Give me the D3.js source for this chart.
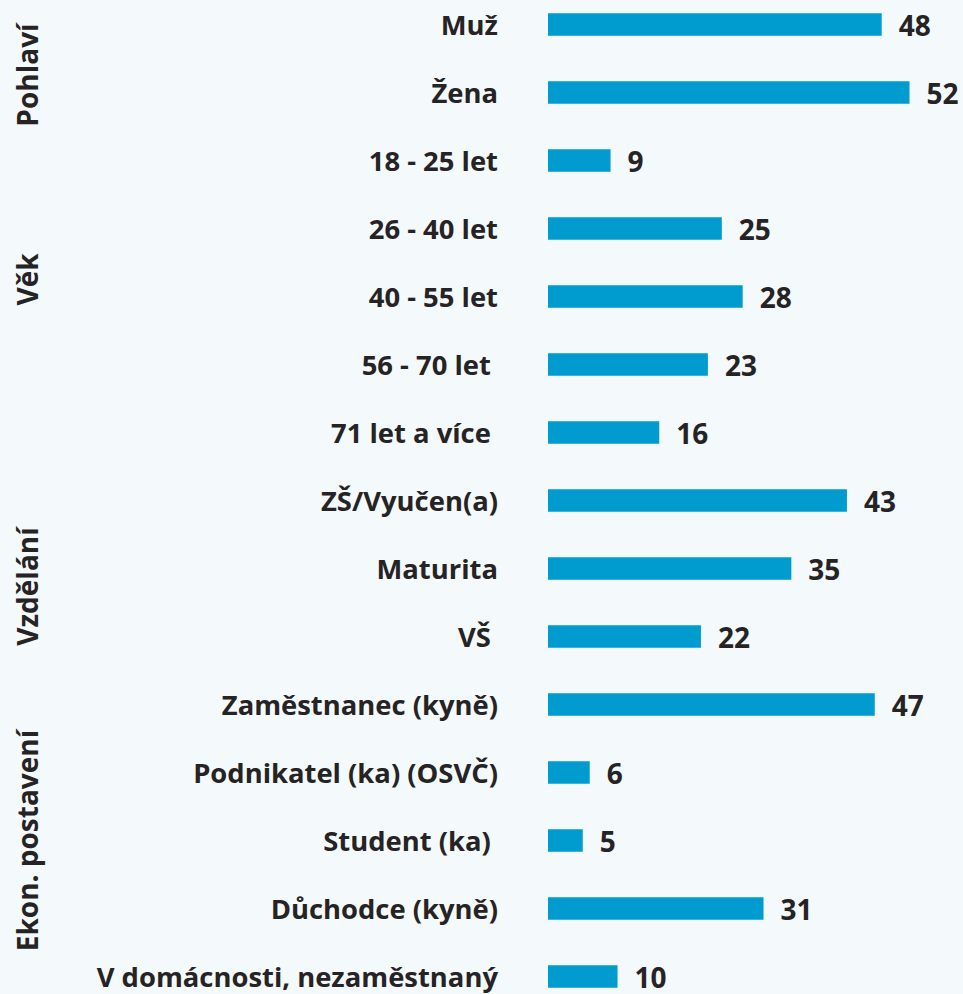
<!DOCTYPE html>
<html lang="cs">
<head>
<meta charset="utf-8">
<script src="https://cdn.jsdelivr.net/npm/d3@7"></script>
<style>
  html, body { margin: 0; padding: 0; background: #F4F9FC; }
  svg { display: block; }
  text { font-family: "Open Sans", "Noto Sans", sans-serif; font-weight: 700; fill: #262324; white-space: pre; }
</style>
</head>
<body>
<script>
// Respondent profile (%), grouped by demographic characteristic
const categories = [
  "Muž", "Žena",
  "18 - 25 let", "26 - 40 let", "40 - 55 let", "56 - 70 let ", "71 let a více ",
  "ZŠ/Vyučen(a)", "Maturita", "VŠ ",
  "Zaměstnanec (kyně)", "Podnikatel (ka) (OSVČ)", "Student (ka) ", "Důchodce (kyně)", "V domácnosti, nezaměstnaný"
];
const values = [48, 52, 9, 25, 28, 23, 16, 43, 35, 22, 47, 6, 5, 31, 10];

const groupNames = ["Pohlaví", "Věk", "Vzdělání", "Ekon. postavení"];
const groupSizes = [2, 5, 3, 5];

const W = 963, H = 994;
const svg = d3.select("body").append("svg").attr("width", W).attr("height", H);

const y = d3.scalePoint().domain(categories).range([24.5, 976.5]);
const x = d3.scaleLinear().domain([0, 52]).range([548, 909.5]);
const barH = 22.5;

// bars
svg.append("g").selectAll("rect")
  .data(categories)
  .join("rect")
  .attr("x", x(0))
  .attr("y", d => y(d) - barH / 2)
  .attr("width", (d, i) => x(values[i]) - x(0))
  .attr("height", barH)
  .attr("fill", "#009BCF");

// value labels
svg.append("g").selectAll("text")
  .data(categories)
  .join("text")
  .attr("x", (d, i) => x(values[i]) + 17)
  .attr("y", d => y(d) + 11.5)
  .attr("font-size", 28)
  .text((d, i) => values[i]);

// category labels
svg.append("g").selectAll("text")
  .data(categories)
  .join("text")
  .attr("x", 498)
  .attr("y", d => y(d) + 10.5)
  .attr("text-anchor", "end")
  .attr("font-size", 27.4)
  .text(d => d);

// group labels, rotated, centred on their rows
const nudge = [16.5, -17, 18, 0];
let start = 0;
const groups = groupNames.map((name, g) => {
  const first = categories[start], last = categories[start + groupSizes[g] - 1];
  start += groupSizes[g];
  return { name, cy: (y(first) + y(last)) / 2 + nudge[g] };
});
svg.append("g").selectAll("text")
  .data(groups)
  .join("text")
  .attr("transform", d => `translate(38,${d.cy}) rotate(-90)`)
  .attr("text-anchor", "middle")
  .attr("font-size", 28)
  .text(d => d.name);
</script>
</body>
</html>
